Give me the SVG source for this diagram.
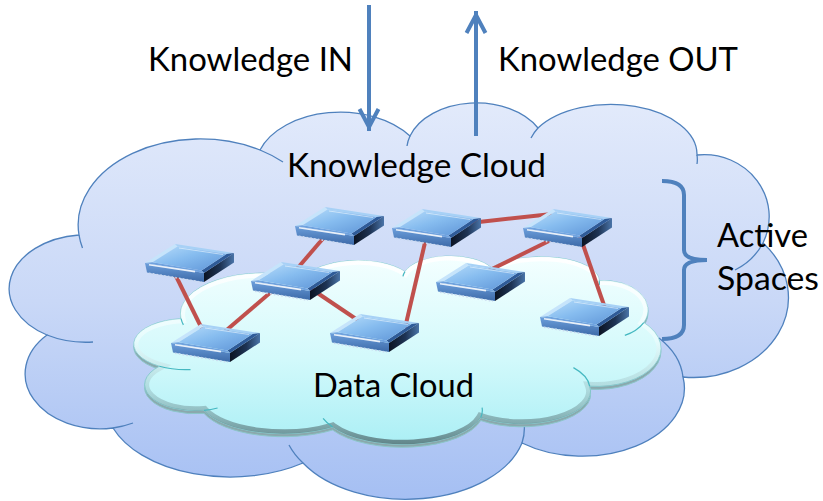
<svg xmlns="http://www.w3.org/2000/svg" xmlns:xlink="http://www.w3.org/1999/xlink" width="823" height="501" viewBox="0 0 823 501">
  <style>
    .label { font-family: Lato, "Open Sans", "DejaVu Sans", sans-serif; font-size: 33px; fill: #000; }
    .blue-line { fill: none; stroke: #4f81bd; stroke-width: 4; }
    .link { stroke: #c0504d; stroke-width: 4; stroke-linecap: butt; }
  </style>
  <defs>
    <!-- eleven-lobed cloud outline, drawn in page coordinates of the large cloud -->
    <path id="cloudPath" vector-effect="non-scaling-stroke"
      d="M79,235 A122,86 0 0 1 260,150 A85,56 0 0 1 410,136 A70,48 0 0 1 538,128 A86,50 0 0 1 697,155 A65,62 0 0 1 763,243 A95,80 0 0 1 683,377 A102,68 0 0 1 522,443 A120,75 0 0 1 303,463 A125,75 0 0 1 113,428 A75,55 0 0 1 47,335 A78,54 0 0 1 79,235 Z"/>
    <!-- short interior arcs where the lobes overlap -->
    <path id="cloudSeams" vector-effect="non-scaling-stroke" fill="none"
      d="M79,235 A122,86 0 0 0 82.5,248 M260,150 A122,86 0 0 1 283,162 M410,136 A70,48 0 0 0 407,146 M538,128 A86,50 0 0 0 531,138 M697,155 A86,50 0 0 1 697,164 M763,243 A65,62 0 0 1 735,270 M683,377 A102,68 0 0 0 659,338 M522,443 A120,75 0 0 0 524,422 M303,463 A120,75 0 0 1 289,445 M113,428 A75,55 0 0 0 133,423 M47,335 A78,54 0 0 0 93,342"/>

    <linearGradient id="knowFill" x1="0" y1="0" x2="0" y2="1">
      <stop offset="0" stop-color="#e2eafb"/>
      <stop offset="0.5" stop-color="#c9d8f7"/>
      <stop offset="1" stop-color="#a5bff3"/>
    </linearGradient>
    <linearGradient id="dataFill" x1="0" y1="0" x2="0" y2="1">
      <stop offset="0" stop-color="#f4ffff"/>
      <stop offset="0.55" stop-color="#d2f9fb"/>
      <stop offset="1" stop-color="#abeff5"/>
    </linearGradient>
    <linearGradient id="dataRim" x1="0" y1="0" x2="0" y2="1">
      <stop offset="0" stop-color="#ffffff" stop-opacity="0.95"/>
      <stop offset="0.45" stop-color="#ffffff" stop-opacity="0.35"/>
      <stop offset="0.7" stop-color="#7fa3a6" stop-opacity="0.3"/>
      <stop offset="1" stop-color="#5a7a7e" stop-opacity="0.9"/>
    </linearGradient>
    <clipPath id="dataClip">
      <use xlink:href="#cloudPath" transform="matrix(0.6765,0,0,0.475,127.6,207.1)"/>
    </clipPath>

    <!-- chip look -->
    <linearGradient id="chipFace" x1="0" y1="0" x2="1" y2="1">
      <stop offset="0" stop-color="#b6dcfa"/>
      <stop offset="0.45" stop-color="#86bcef"/>
      <stop offset="1" stop-color="#5d93d6"/>
    </linearGradient>
    <linearGradient id="chipFront" x1="0" y1="0" x2="0" y2="1">
      <stop offset="0" stop-color="#6c9fdc"/>
      <stop offset="1" stop-color="#3d6aa8"/>
    </linearGradient>
    <linearGradient id="chipSide" x1="0" y1="0" x2="1" y2="0">
      <stop offset="0" stop-color="#0b1322"/>
      <stop offset="0.55" stop-color="#1e3455"/>
      <stop offset="1" stop-color="#4a74a8"/>
    </linearGradient>
    <g id="chip">
      <polygon points="0,19 59,29 59,38 2,28.5" fill="url(#chipFront)"/>
      <polygon points="59,29 89,9 89,18.5 59,38" fill="url(#chipSide)"/>
      <path d="M4,29.2 L57,38.2" stroke="#c9d8ee" stroke-width="1.6" stroke-dasharray="1.6 2.2"/>
      <polygon points="0,19 30,0 32.5,2.5 7.5,18.2" fill="#c6e4fb"/>
      <polygon points="30,0 89,9 81.5,10 32.5,2.5" fill="#a7d1f6"/>
      <polygon points="89,9 59,29 56.5,26.5 81.5,10" fill="#2f5b98"/>
      <polygon points="59,29 0,19 7.5,18.2 56.5,26.5" fill="#6fa2de"/>
      <polygon points="7.5,18.2 32.5,2.5 81.5,10 56.5,26.5" fill="url(#chipFace)"/>
      <path d="M4,20.8 L50,27.6" stroke="#ffffff" stroke-opacity="0.85" stroke-width="1.6"/>
      <path d="M34,4 L78,10.5" stroke="#ffffff" stroke-opacity="0.5" stroke-width="1"/>
    </g>

    <marker id="openArrow" markerUnits="userSpaceOnUse" markerWidth="28" markerHeight="26"
      viewBox="-26 -13 28 26" refX="0" refY="0" orient="auto" overflow="visible">
      <path d="M-22,-9.5 L-4,0 L-22,9.5" fill="none" stroke="#4f81bd" stroke-width="4" stroke-linejoin="miter" stroke-miterlimit="10"/>
    </marker>
  </defs>

  <rect width="823" height="501" fill="#ffffff"/>

  <!-- outer cloud -->
  <g id="knowledge-cloud">
    <use xlink:href="#cloudPath" fill="url(#knowFill)" stroke="#4f81bd" stroke-width="1.3"/>
    <use xlink:href="#cloudSeams" stroke="#4f81bd" stroke-width="1.3"/>
  </g>

  <!-- inner glassy cloud -->
  <g id="data-cloud">
    <use xlink:href="#cloudPath" transform="translate(0,3) matrix(0.6765,0,0,0.475,127.6,207.1)" fill="#8aa9ad" stroke="#8cc6ca" stroke-width="1"/>
    <use xlink:href="#cloudPath" transform="matrix(0.6765,0,0,0.475,127.6,207.1)" fill="url(#dataFill)" stroke="#86cdd2" stroke-width="1"/>
    <g clip-path="url(#dataClip)">
      <use xlink:href="#cloudPath" transform="matrix(0.6765,0,0,0.475,127.6,207.1)" fill="none" stroke="url(#dataRim)" stroke-width="9"/>
    </g>
    <use xlink:href="#cloudSeams" transform="matrix(0.6765,0,0,0.475,127.6,207.1)" stroke="#45b8c1" stroke-width="1.2"/>
  </g>

  <!-- flows in and out -->
  <g id="arrows">
    <path class="blue-line" d="M369,5 V131" marker-end="url(#openArrow)"/>
    <path class="blue-line" d="M476,136 V11" marker-end="url(#openArrow)"/>
  </g>

  <!-- brace grouping the active spaces -->
  <g id="brace">
    <path class="blue-line" d="M662,181 Q684,181 684,195 L684,250 Q684,260 707,260 Q684,260 684,270 L684,325 Q684,339 662,339"/>
  </g>

  <!-- links between chips -->
  <g id="connectors">
    <line class="link" x1="173" y1="270" x2="205" y2="335"/>
    <line class="link" x1="222" y1="334" x2="278" y2="286"/>
    <line class="link" x1="296" y1="270" x2="326" y2="235"/>
    <line class="link" x1="310" y1="288" x2="362" y2="323"/>
    <line class="link" x1="405" y1="328" x2="427" y2="234"/>
    <line class="link" x1="470" y1="223" x2="552" y2="214"/>
    <line class="link" x1="555" y1="238" x2="488" y2="271"/>
    <line class="link" x1="580" y1="236" x2="605" y2="308"/>
  </g>

  <!-- chips -->
  <g id="node-1" transform="translate(145,244)"><use xlink:href="#chip"/></g>
  <g id="node-2" transform="translate(295,207)"><use xlink:href="#chip"/></g>
  <g id="node-3" transform="translate(251,262)"><use xlink:href="#chip"/></g>
  <g id="node-4" transform="translate(171,324)"><use xlink:href="#chip"/></g>
  <g id="node-5" transform="translate(330,314)"><use xlink:href="#chip"/></g>
  <g id="node-6" transform="translate(392,209)"><use xlink:href="#chip"/></g>
  <g id="node-7" transform="translate(523,209)"><use xlink:href="#chip"/></g>
  <g id="node-8" transform="translate(436,263)"><use xlink:href="#chip"/></g>
  <g id="node-9" transform="translate(540,298)"><use xlink:href="#chip"/></g>

  <!-- labels -->
  <g id="labels">
    <text class="label" x="148" y="71" textLength="205" lengthAdjust="spacingAndGlyphs">Knowledge IN</text>
    <text class="label" x="498" y="71" textLength="240" lengthAdjust="spacingAndGlyphs">Knowledge OUT</text>
    <text class="label" x="287" y="177" textLength="259" lengthAdjust="spacingAndGlyphs">Knowledge Cloud</text>
    <text class="label" x="313" y="397" textLength="161" lengthAdjust="spacingAndGlyphs">Data Cloud</text>
    <text class="label" x="717" y="247" textLength="91" lengthAdjust="spacingAndGlyphs">Active</text>
    <text class="label" x="717" y="290" textLength="102" lengthAdjust="spacingAndGlyphs">Spaces</text>
  </g>
</svg>
